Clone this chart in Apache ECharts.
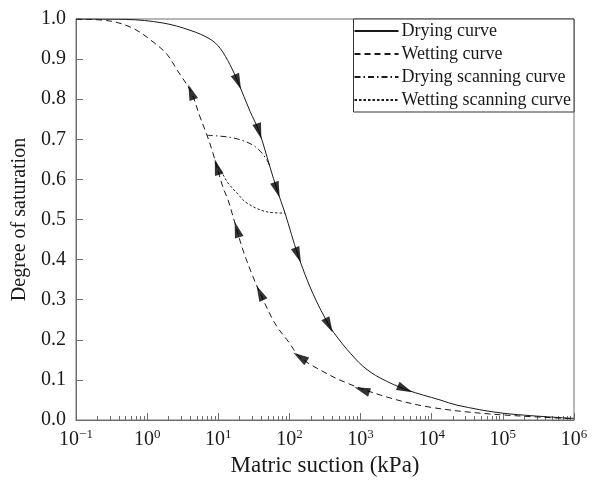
<!DOCTYPE html>
<html>
<head>
<meta charset="utf-8">
<script src="https://cdn.jsdelivr.net/npm/echarts@6/dist/echarts.min.js"></script>
<style>
  html, body { margin: 0; padding: 0; background: #fff; }
  #chart { width: 594px; height: 489px; }
</style>
</head>
<body>
<div id="chart"></div>
<script>
  // suction (kPa), degree of saturation
  const dryingCurve = [
    [0.1, 1.0], [0.5, 0.999], [1.67, 0.99], [4.0, 0.972], [7.65, 0.95], [10.6, 0.927],
    [14.6, 0.886], [18.9, 0.843], [27.9, 0.77], [37.4, 0.72], [53.3, 0.631], [66.9, 0.574],
    [86.7, 0.516], [132, 0.411], [214, 0.315], [372, 0.232], [482, 0.204], [645, 0.176],
    [1081, 0.134], [1875, 0.105], [4500, 0.075], [13100, 0.05], [22700, 0.037],
    [100000, 0.017], [1000000, 0.004]
  ]
  const wettingCurve = [
    [0.1, 1.0], [0.3, 0.995], [0.63, 0.977], [1.21, 0.943], [1.9, 0.912], [2.63, 0.873],
    [4.14, 0.818], [5.53, 0.756], [6.94, 0.71], [8.17, 0.673], [11.6, 0.581],
    [13.7, 0.549], [15.6, 0.516], [17.8, 0.481], [22.2, 0.424], [30.8, 0.357],
    [38.6, 0.317], [58.8, 0.249], [73.8, 0.222], [92.5, 0.2], [141, 0.157],
    [269, 0.125], [645, 0.092], [2594, 0.055], [9460, 0.032], [65900, 0.015],
    [1000000, 0.003]
  ]
  const dryingScanning = [
    [6.94, 0.71], [14.6, 0.705], [25.3, 0.693], [36.2, 0.676], [48.4, 0.648], [53.3, 0.631]
  ]
  const wettingScanning = [
    [9.9, 0.631], [11.3, 0.616], [13.7, 0.591], [18.3, 0.566], [25.3, 0.541],
    [48.4, 0.519], [86.7, 0.516]
  ]
  const dryingArrows = [[18.9, 0.843], [37.4, 0.72], [66.9, 0.574], [132, 0.411], [360, 0.236], [4217, 0.077]]
  const wettingArrows = [[4.14, 0.818], [9.6, 0.631], [18.3, 0.475], [38.6, 0.317], [141, 0.157], [1047, 0.075]]

  const xMin = 0.1
  const xMax = 1000000
  const yTicks = [0, 0.1, 0.2, 0.3, 0.4, 0.5, 0.6, 0.7, 0.8, 0.9, 1.0]

  // minor ticks at 2..9 of each decade (in log10 units for the helper axis)
  const minorTicks = []
  for (let d = -1; d < 6; d++) {
    for (let k = 2; k <= 9; k++) minorTicks.push(Math.log10(k) + d)
  }

  const font = 'Liberation Serif, Times New Roman, serif'
  const ink = '#1a1a1a'
  const frame = '#6e6e6e'

  const chart = echarts.init(document.getElementById('chart'))

  const lineSeries = (name, data, type) => ({
    name: name,
    type: 'line',
    data: data,
    smooth: 0.35,
    symbol: 'none',
    xAxisIndex: 0,
    yAxisIndex: 0,
    lineStyle: { color: ink, width: 1, type: type },
    itemStyle: { color: ink, opacity: 0 },
    z: 3
  })

  const arrowSeries = (data) => ({
    type: 'scatter',
    data: data,
    symbol: 'triangle',
    symbolSize: [9, 16],
    xAxisIndex: 0,
    yAxisIndex: 0,
    itemStyle: { color: '#000' },
    silent: true,
    z: 5
  })

  chart.setOption({
    animation: false,
    grid: {
      left: 76,
      right: 20,
      top: 19,
      bottom: 69,
      outerBoundsMode: 'none',
      show: true,
      borderColor: frame,
      borderWidth: 1
    },
    legend: {
      data: ['Drying curve', 'Wetting curve', 'Drying scanning curve', 'Wetting scanning curve'],
      orient: 'vertical',
      right: 20,
      top: 19,
      itemWidth: 44,
      itemHeight: 14,
      itemGap: 5,
      padding: [3, 3, 3, 0],
      borderColor: '#333',
      borderWidth: 1,
      backgroundColor: '#fff',
      selectedMode: false,
      itemStyle: { opacity: 0 },
      textStyle: { fontFamily: font, fontSize: 18, lineHeight: 18, color: ink, padding: [0, 0, 0, -2] }
    },
    xAxis: [
      {
        type: 'log',
        logBase: 10,
        min: xMin,
        max: xMax,
        name: 'Matric suction (kPa)',
        nameLocation: 'middle',
        nameGap: 22,
        nameTextStyle: { fontFamily: font, fontSize: 23, color: ink },
        axisLine: { show: true, onZero: false, lineStyle: { color: frame } },
        axisTick: { show: true, inside: true, length: 7, lineStyle: { color: frame } },
        splitLine: { show: false },
        axisLabel: {
          margin: 8,
          color: ink,
          fontFamily: font,
          fontSize: 20,
          formatter: (v) => {
            const e = Math.round(Math.log10(v))
            return '10{sup|' + (e < 0 ? '\u2212' + (-e) : e) + '}'
          },
          rich: {
            sup: { fontFamily: font, fontSize: 13, color: ink, padding: [0, 0, 10, 0] }
          }
        }
      },
      {
        type: 'value',
        min: -1,
        max: 6,
        position: 'bottom',
        offset: 0,
        axisLine: { show: false, onZero: false },
        axisLabel: { show: false },
        splitLine: { show: false },
        axisTick: {
          show: true,
          inside: true,
          length: 4,
          customValues: minorTicks,
          lineStyle: { color: frame }
        }
      }
    ],
    yAxis: {
      type: 'value',
      min: 0,
      max: 1,
      interval: 0.1,
      name: 'Degree of saturation',
      nameLocation: 'middle',
      nameGap: 39,
      nameTextStyle: { fontFamily: font, fontSize: 20, color: ink },
      axisLine: { show: true, onZero: false, lineStyle: { color: frame } },
      axisTick: { show: true, inside: true, length: 7, lineStyle: { color: frame } },
      splitLine: { show: false },
      axisLabel: {
        margin: 10,
        color: ink,
        fontFamily: font,
        fontSize: 20,
        customValues: yTicks,
        formatter: (v) => v.toFixed(1)
      }
    },
    series: [
      lineSeries('Drying curve', dryingCurve, 'solid'),
      lineSeries('Wetting curve', wettingCurve, [6, 4]),
      lineSeries('Drying scanning curve', dryingScanning, [6, 3, 1.5, 3]),
      lineSeries('Wetting scanning curve', wettingScanning, [2.5, 2]),
      arrowSeries([]),
      arrowSeries([])
    ]
  })

  // point each arrow along its curve: forward = towards larger suction
  const arrowData = (arrows, curve, forward) => arrows.map((a) => {
    let i = 0
    while (i < curve.length - 2 && curve[i + 1][0] <= a[0]) i++
    const p1 = chart.convertToPixel({ seriesIndex: 0 }, curve[i])
    const p2 = chart.convertToPixel({ seriesIndex: 0 }, curve[i + 1])
    let dx = p2[0] - p1[0]
    let dy = p2[1] - p1[1]
    if (!forward) { dx = -dx; dy = -dy }
    const deg = Math.atan2(-dy, dx) * 180 / Math.PI
    return { value: a, symbolRotate: deg - 90 }
  })

  chart.setOption({
    series: [{}, {}, {}, {},
      { data: arrowData(dryingArrows, dryingCurve, true) },
      { data: arrowData(wettingArrows, wettingCurve, false) }
    ]
  })

  window.addEventListener('resize', () => chart.resize())
</script>
</body>
</html>
